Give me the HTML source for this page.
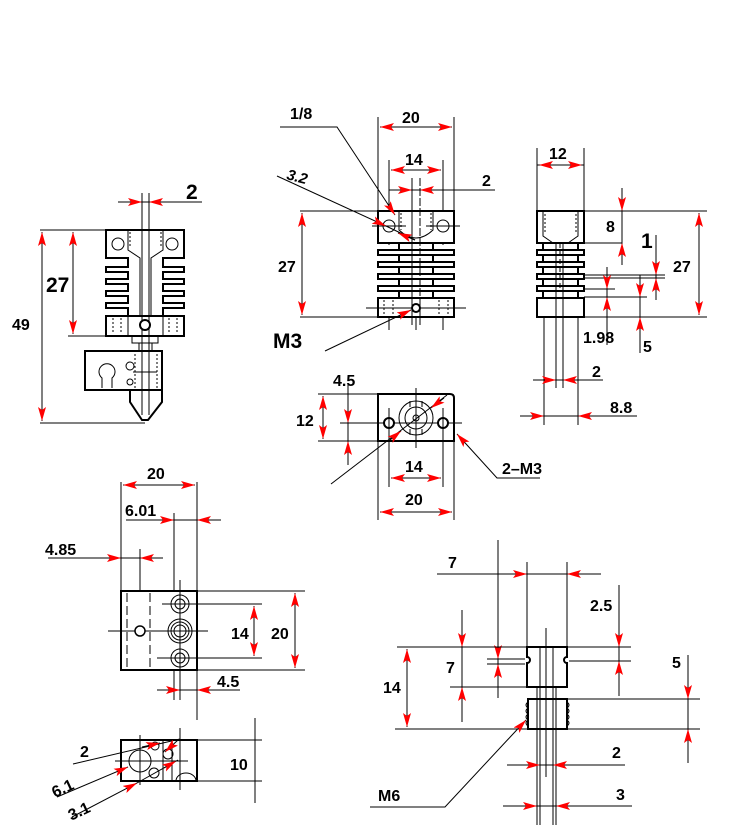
<!DOCTYPE html>
<html><head><meta charset="utf-8"><style>
html,body{margin:0;padding:0;background:#fff}
svg{display:block}
text{font-family:"Liberation Sans",sans-serif;font-weight:bold;fill:#000}
.l{stroke:#000;stroke-width:1;fill:none}
.o{stroke:#000;stroke-width:2;fill:#fff}
.t{stroke:#000;stroke-width:1;fill:none;stroke-dasharray:2 2}
</style></head><body>
<svg width="750" height="825" viewBox="0 0 750 825" xmlns="http://www.w3.org/2000/svg">
<defs>
<marker id="a" viewBox="0 0 14 8" refX="14" refY="4" markerWidth="14" markerHeight="8" orient="auto" markerUnits="userSpaceOnUse"><path d="M0,0 L14,4 L0,8 L3,4z" fill="#f00"/></marker>
<marker id="s" viewBox="0 0 14 8" refX="14" refY="4" markerWidth="14" markerHeight="8" orient="auto-start-reverse" markerUnits="userSpaceOnUse"><path d="M0,0 L14,4 L0,8 L3,4z" fill="#f00"/></marker>
</defs>

<!-- ===== VIEW 1 left ===== -->
<g>
<line class="l" x1="118" y1="202" x2="202" y2="202"/>
<line class="l" x1="124" y1="202" x2="142" y2="202" marker-end="url(#a)"/>
<line class="l" x1="167" y1="202" x2="149" y2="202" marker-end="url(#a)"/>
<text x="186" y="199" font-size="21">2</text>
<path class="o" d="M106,230 H184 V258 H163 V267 H184 V272 H163 V279 H184 V284 H163 V291 H184 V296 H163 V303 H184 V308 H163 V316 H128 V308 H106 V303 H128 V296 H106 V291 H128 V284 H106 V279 H128 V272 H106 V267 H128 V258 H106 Z"/>
<path class="l" d="M128,230 V250 L140,258 V316 M163,230 V250 L151,258 V316"/>
<path class="t" d="M130,232 V248 M161,232 V248"/>
<circle class="l" cx="118" cy="244" r="6"/><circle class="l" cx="172" cy="244" r="6"/>
<rect class="o" x="106" y="316" width="78" height="20"/>
<path class="t" d="M113,318 V334 M121,318 V334 M169,318 V334 M177,318 V334"/>
<path class="l" d="M128,316 V336 M163,316 V336"/>
<path class="l" d="M132,336 V343 H158 V336 M139,343 V351 M152,343 V351"/>
<rect class="o" x="85" y="351" width="77" height="39"/>
<path class="l" d="M102,388 V378 A8,8 0 1 1 112,378 V388"/>
<circle class="l" cx="130" cy="366" r="4"/><circle class="l" cx="130" cy="382" r="3"/>
<path class="t" d="M135,354 V388 M157,354 V388"/>
<line class="l" x1="133" y1="372" x2="157" y2="372"/>
<path class="o" d="M130,390 H162 V402 L148,420 H142 L130,402 Z"/>
<line class="l" x1="142" y1="193" x2="142" y2="415"/><line class="l" x1="149" y1="193" x2="149" y2="415"/>
<circle cx="145" cy="325" r="5" fill="#fff" stroke="#000" stroke-width="2"/>
<line class="l" x1="40" y1="230" x2="106" y2="230"/>
<line class="l" x1="68" y1="336" x2="106" y2="336"/>
<line class="l" x1="73" y1="232" x2="73" y2="334" marker-start="url(#s)" marker-end="url(#a)"/>
<text x="46" y="292" font-size="21">27</text>
<line class="l" x1="42" y1="232" x2="42" y2="421" marker-start="url(#s)" marker-end="url(#a)"/>
<line class="l" x1="40" y1="423" x2="145" y2="423"/>
<text x="12" y="330" font-size="16">49</text>
</g>

<!-- ===== VIEW 2 top middle ===== -->
<g>
<line class="l" x1="378" y1="117" x2="378" y2="211"/><line class="l" x1="454" y1="117" x2="454" y2="211"/>
<line class="l" x1="380" y1="127" x2="452" y2="127" marker-start="url(#s)" marker-end="url(#a)"/>
<text x="402" y="123" font-size="16">20</text>
<line class="l" x1="389" y1="160" x2="389" y2="245"/><line class="l" x1="443" y1="160" x2="443" y2="245"/>
<line class="l" x1="391" y1="170" x2="441" y2="170" marker-start="url(#s)" marker-end="url(#a)"/>
<text x="405" y="165" font-size="16">14</text>
<line class="l" x1="389" y1="190" x2="495" y2="190"/>
<line class="l" x1="396" y1="190" x2="412" y2="190" marker-end="url(#a)"/>
<line class="l" x1="436" y1="190" x2="420" y2="190" marker-end="url(#a)"/>
<text x="482" y="186" font-size="16">2</text>
<rect class="o" x="399" y="243" width="34" height="55"/>
<rect class="o" x="378" y="250" width="76" height="5"/><rect class="o" x="378" y="262" width="76" height="5"/>
<rect class="o" x="378" y="274" width="76" height="5"/><rect class="o" x="378" y="286" width="76" height="5"/>
<rect class="o" x="378" y="211" width="76" height="32"/>
<path class="l" d="M399,211 V230 Q416,246 433,230 V211"/>
<path class="t" d="M401,213 V230 M431,213 V230"/>
<circle class="l" cx="389" cy="226" r="6"/><circle class="l" cx="443" cy="226" r="6"/>
<line class="l" x1="372" y1="226" x2="406" y2="226"/><line class="l" x1="426" y1="226" x2="460" y2="226"/>
<rect class="o" x="378" y="298" width="76" height="19"/>
<path class="t" d="M384,300 V315 M393,300 V315 M439,300 V315 M448,300 V315"/>
<line class="l" x1="412" y1="178" x2="412" y2="325"/><line class="l" x1="420" y1="178" x2="420" y2="325" stroke-dasharray="8 2"/>
<line class="l" x1="366" y1="308" x2="466" y2="308"/>
<line class="l" x1="389" y1="318" x2="389" y2="330"/><line class="l" x1="443" y1="318" x2="443" y2="330"/><line class="l" x1="416" y1="318" x2="416" y2="330"/>
<circle cx="416" cy="308" r="4" fill="#fff" stroke="#000" stroke-width="2"/>
<line class="l" x1="300" y1="211" x2="378" y2="211"/><line class="l" x1="300" y1="317" x2="378" y2="317"/>
<line class="l" x1="302" y1="213" x2="302" y2="315" marker-start="url(#s)" marker-end="url(#a)"/>
<text x="278" y="272" font-size="16">27</text>
<text x="290" y="119" font-size="16">1/8</text>
<path class="l" d="M280,127 H337 L395,215" marker-end="url(#a)"/>
<text x="287" y="182" font-size="15" font-style="italic" transform="rotate(15 298 176)">3.2</text>
<line class="l" x1="277" y1="176" x2="386" y2="226" marker-end="url(#a)"/>
<line class="l" x1="386" y1="226" x2="415" y2="240"/>
<line class="l" x1="415" y1="240" x2="398" y2="233" marker-end="url(#a)"/>
<text x="273" y="348" font-size="21">M3</text>
<path class="l" d="M325,351 L411,310" marker-end="url(#a)"/>
</g>

<!-- ===== VIEW 3 right top ===== -->
<g>
<line class="l" x1="537" y1="148" x2="537" y2="211"/><line class="l" x1="584" y1="148" x2="584" y2="211"/>
<line class="l" x1="537" y1="165" x2="584" y2="165"/>
<line class="l" x1="549" y1="165" x2="539" y2="165" marker-end="url(#a)"/>
<line class="l" x1="572" y1="165" x2="582" y2="165" marker-end="url(#a)"/>
<text x="549" y="159" font-size="16">12</text>
<rect class="o" x="543" y="243" width="35" height="55"/>
<rect class="o" x="537" y="250" width="47" height="5"/><rect class="o" x="537" y="262" width="47" height="5"/>
<rect class="o" x="537" y="274" width="47" height="5"/><rect class="o" x="537" y="286" width="47" height="5"/>
<rect class="o" x="537" y="211" width="47" height="32"/>
<path class="l" d="M543,211 V236 L553,243 M578,211 V236 L568,243"/>
<path class="t" d="M545,214 V234 M576,214 V234"/>
<rect class="o" x="537" y="298" width="47" height="19"/>
<line class="l" x1="544" y1="317" x2="544" y2="425"/><line class="l" x1="578" y1="317" x2="578" y2="425"/>
<line class="l" x1="556" y1="242" x2="556" y2="388"/><line class="l" x1="563" y1="242" x2="563" y2="388"/>
<line class="l" x1="560" y1="243" x2="560" y2="292" stroke-dasharray="5 3"/>
<line class="l" x1="584" y1="211" x2="707" y2="211"/><line class="l" x1="584" y1="243" x2="622" y2="243"/>
<line class="l" x1="622" y1="188" x2="622" y2="265"/>
<line class="l" x1="622" y1="193" x2="622" y2="211" marker-end="url(#a)"/>
<line class="l" x1="622" y1="261" x2="622" y2="243" marker-end="url(#a)"/>
<text x="606" y="232" font-size="16">8</text>
<text x="641" y="248" font-size="21">1</text>
<line class="l" x1="584" y1="275" x2="665" y2="275"/><line class="l" x1="584" y1="278" x2="665" y2="278"/>
<line class="l" x1="656" y1="235" x2="656" y2="300"/>
<line class="l" x1="656" y1="260" x2="656" y2="275" marker-end="url(#a)"/>
<line class="l" x1="656" y1="295" x2="656" y2="278" marker-end="url(#a)"/>
<line class="l" x1="584" y1="289" x2="615" y2="289"/><line class="l" x1="584" y1="297" x2="647" y2="297"/>
<line class="l" x1="607" y1="267" x2="607" y2="345"/>
<line class="l" x1="607" y1="273" x2="607" y2="289" marker-end="url(#a)"/>
<line class="l" x1="607" y1="313" x2="607" y2="297" marker-end="url(#a)"/>
<text x="583" y="343" font-size="16">1.98</text>
<line class="l" x1="640" y1="275" x2="640" y2="353"/>
<line class="l" x1="640" y1="282" x2="640" y2="297" marker-end="url(#a)"/>
<line class="l" x1="640" y1="333" x2="640" y2="317" marker-end="url(#a)"/>
<text x="643" y="352" font-size="16">5</text>
<line class="l" x1="584" y1="317" x2="707" y2="317"/>
<line class="l" x1="699" y1="213" x2="699" y2="315" marker-start="url(#s)" marker-end="url(#a)"/>
<text x="673" y="272" font-size="16">27</text>
<line class="l" x1="533" y1="380" x2="603" y2="380"/>
<line class="l" x1="541" y1="380" x2="556" y2="380" marker-end="url(#a)"/>
<line class="l" x1="578" y1="380" x2="563" y2="380" marker-end="url(#a)"/>
<text x="592" y="377" font-size="16">2</text>
<line class="l" x1="520" y1="416" x2="637" y2="416"/>
<line class="l" x1="526" y1="416" x2="544" y2="416" marker-end="url(#a)"/>
<line class="l" x1="596" y1="416" x2="578" y2="416" marker-end="url(#a)"/>
<text x="610" y="413" font-size="16">8.8</text>
</g>

<!-- ===== VIEW 4 middle ===== -->
<g>
<path class="o" d="M378,394 H450 Q454,394 454,398 V441 H378 Z"/>
<line class="l" x1="340" y1="423" x2="462" y2="423"/>
<line class="l" x1="416" y1="388" x2="416" y2="448"/>
<circle class="l" cx="416" cy="418" r="17" stroke-width="1.5"/>
<circle class="l" cx="416" cy="418" r="11"/>
<circle class="l" cx="416" cy="418" r="3"/>
<path class="l" d="M410,401 V407 M422,401 V407 M410,429 V435 M422,429 V435"/>
<circle cx="389" cy="423" r="5" fill="#fff" stroke="#000" stroke-width="2"/>
<circle cx="443" cy="423" r="5" fill="#fff" stroke="#000" stroke-width="2"/>
<line class="l" x1="389" y1="408" x2="389" y2="487"/><line class="l" x1="443" y1="408" x2="443" y2="487"/>
<line class="l" x1="391" y1="478" x2="441" y2="478" marker-start="url(#s)" marker-end="url(#a)"/>
<text x="405" y="472" font-size="16">14</text>
<line class="l" x1="378" y1="441" x2="378" y2="520"/><line class="l" x1="454" y1="441" x2="454" y2="520"/>
<line class="l" x1="380" y1="512" x2="452" y2="512" marker-start="url(#s)" marker-end="url(#a)"/>
<text x="405" y="505" font-size="16">20</text>
<line class="l" x1="318" y1="394" x2="378" y2="394"/><line class="l" x1="318" y1="441" x2="378" y2="441"/>
<line class="l" x1="323" y1="396" x2="323" y2="439" marker-start="url(#s)" marker-end="url(#a)"/>
<text x="296" y="426" font-size="16">12</text>
<line class="l" x1="348" y1="385" x2="348" y2="465"/>
<line class="l" x1="348" y1="408" x2="348" y2="423" marker-end="url(#a)"/>
<line class="l" x1="348" y1="458" x2="348" y2="441" marker-end="url(#a)"/>
<text x="333" y="386" font-size="16">4.5</text>
<line class="l" x1="331" y1="484" x2="447" y2="395"/>
<line class="l" x1="444" y1="398" x2="431" y2="408" marker-end="url(#a)"/>
<line class="l" x1="390" y1="440" x2="401" y2="431" marker-end="url(#a)"/>
<path class="l" d="M540,478 H497 L457,434" marker-end="url(#a)"/>
<text x="502" y="474" font-size="16">2–M3</text>
</g>

<!-- ===== VIEW 5 ===== -->
<g>
<line class="l" x1="121" y1="482" x2="121" y2="591"/><line class="l" x1="197" y1="482" x2="197" y2="720"/>
<line class="l" x1="123" y1="485" x2="195" y2="485" marker-start="url(#s)" marker-end="url(#a)"/>
<text x="147" y="479" font-size="16">20</text>
<line class="l" x1="174" y1="513" x2="174" y2="700"/>
<line class="l" x1="126" y1="520" x2="221" y2="520"/>
<line class="l" x1="158" y1="520" x2="174" y2="520" marker-end="url(#a)"/>
<line class="l" x1="213" y1="520" x2="197" y2="520" marker-end="url(#a)"/>
<text x="125" y="516" font-size="16">6.01</text>
<line class="l" x1="140" y1="549" x2="140" y2="631"/>
<line class="l" x1="48" y1="558" x2="163" y2="558"/>
<line class="l" x1="106" y1="558" x2="121" y2="558" marker-end="url(#a)"/>
<line class="l" x1="156" y1="558" x2="140" y2="558" marker-end="url(#a)"/>
<text x="45" y="555" font-size="16">4.85</text>
<rect class="o" x="121" y="591" width="76" height="79"/>
<line class="l" x1="127" y1="593" x2="127" y2="668" stroke-dasharray="9 4" stroke-width="2"/>
<line class="l" x1="150" y1="593" x2="150" y2="668" stroke-dasharray="9 4" stroke-width="2"/>
<line class="l" x1="108" y1="631" x2="208" y2="631"/>
<circle cx="140" cy="631" r="5" fill="#fff" stroke="#000" stroke-width="1.5"/>
<circle class="l" cx="180" cy="604" r="9" stroke-width="1.5"/><circle class="l" cx="180" cy="604" r="5"/>
<circle class="l" cx="180" cy="631" r="12" stroke-width="1.5"/><circle class="l" cx="180" cy="631" r="9"/><circle class="l" cx="180" cy="631" r="6"/>
<circle class="l" cx="180" cy="658" r="9" stroke-width="1.5"/><circle class="l" cx="180" cy="658" r="5"/>
<line class="l" x1="180" y1="580" x2="180" y2="700"/>
<line class="l" x1="162" y1="604" x2="262" y2="604"/><line class="l" x1="157" y1="658" x2="262" y2="658"/>
<line class="l" x1="254" y1="606" x2="254" y2="656" marker-start="url(#s)" marker-end="url(#a)"/>
<text x="231" y="639" font-size="16">14</text>
<line class="l" x1="197" y1="591" x2="305" y2="591"/><line class="l" x1="197" y1="670" x2="305" y2="670"/>
<line class="l" x1="295" y1="593" x2="295" y2="668" marker-start="url(#s)" marker-end="url(#a)"/>
<text x="271" y="639" font-size="16">20</text>
<line class="l" x1="157" y1="690" x2="240" y2="690"/>
<line class="l" x1="164" y1="690" x2="180" y2="690" marker-end="url(#a)"/>
<line class="l" x1="213" y1="690" x2="197" y2="690" marker-end="url(#a)"/>
<text x="217" y="687" font-size="16">4.5</text>
</g>

<!-- ===== VIEW 6 ===== -->
<g>
<rect class="o" x="121" y="740" width="76" height="41"/>
<line class="l" x1="180" y1="728" x2="180" y2="790"/>
<line class="l" x1="163" y1="740" x2="163" y2="781"/>
<line class="l" x1="172" y1="740" x2="172" y2="781"/>
<line class="l" x1="140" y1="735" x2="140" y2="785"/>
<line class="l" x1="115" y1="761" x2="188" y2="761"/>
<circle class="l" cx="140" cy="761" r="11"/>
<circle class="l" cx="155" cy="746" r="4"/>
<circle class="l" cx="154" cy="773" r="5"/>
<circle class="l" cx="168" cy="754" r="5"/>
<path class="l" d="M176,781 A10,8 0 0 1 196,781"/>
<line class="l" x1="197" y1="740" x2="262" y2="740"/><line class="l" x1="197" y1="781" x2="262" y2="781"/>
<line class="l" x1="255" y1="718" x2="255" y2="803"/>
<text x="230" y="770" font-size="16">10</text>
<text x="80" y="757" font-size="16">2</text>
<line class="l" x1="73" y1="764" x2="180" y2="739"/>
<line class="l" x1="142" y1="747" x2="160" y2="743" marker-end="url(#a)"/>
<line class="l" x1="178" y1="740" x2="165" y2="752" marker-end="url(#a)"/>
<text x="52" y="795" font-size="16" transform="rotate(-25 60 790)">6.1</text>
<line class="l" x1="57" y1="797" x2="128" y2="767" marker-end="url(#a)"/>
<text x="68" y="818" font-size="16" transform="rotate(-25 76 812)">3.1</text>
<line class="l" x1="72" y1="817" x2="137" y2="783" marker-end="url(#a)"/>
<line class="l" x1="137" y1="783" x2="178" y2="760"/>
<line class="l" x1="164" y1="768" x2="176" y2="761" marker-end="url(#a)"/>
</g>

<!-- ===== VIEW 7 ===== -->
<g>
<line class="l" x1="527" y1="562" x2="527" y2="647"/><line class="l" x1="567" y1="562" x2="567" y2="647"/>
<line class="l" x1="437" y1="574" x2="601" y2="574"/>
<line class="l" x1="508" y1="574" x2="527" y2="574" marker-end="url(#a)"/>
<line class="l" x1="586" y1="574" x2="567" y2="574" marker-end="url(#a)"/>
<text x="448" y="568" font-size="16">7</text>
<path class="o" d="M527,647 H567 V657 A3,3 0 0 0 567,663 V687 H527 V663 A3,3 0 0 0 527,657 Z"/>
<line class="l" x1="487" y1="659" x2="525" y2="659"/><line class="l" x1="487" y1="664" x2="525" y2="664"/>
<line class="l" x1="569" y1="661" x2="631" y2="661"/>
<line class="l" x1="498" y1="540" x2="498" y2="698"/>
<line class="l" x1="498" y1="640" x2="498" y2="659" marker-end="url(#a)"/>
<line class="l" x1="498" y1="684" x2="498" y2="664" marker-end="url(#a)"/>
<line class="l" x1="397" y1="647" x2="631" y2="647"/>
<line class="l" x1="619" y1="585" x2="619" y2="696"/>
<line class="l" x1="619" y1="628" x2="619" y2="647" marker-end="url(#a)"/>
<line class="l" x1="619" y1="680" x2="619" y2="661" marker-end="url(#a)"/>
<text x="590" y="611" font-size="16">2.5</text>
<line class="l" x1="450" y1="687" x2="527" y2="687"/>
<line class="l" x1="462" y1="610" x2="462" y2="722"/>
<line class="l" x1="462" y1="628" x2="462" y2="647" marker-end="url(#a)"/>
<line class="l" x1="462" y1="706" x2="462" y2="687" marker-end="url(#a)"/>
<text x="446" y="673" font-size="16">7</text>
<rect class="o" x="528" y="699" width="39" height="30"/>
<path class="l" d="M528,702 q-4,3 0,6 q-4,3 0,6 q-4,3 0,6 q-4,3 0,6 M567,702 q4,3 0,6 q4,3 0,6 q4,3 0,6 q4,3 0,6" stroke-width="1.5"/>
<line class="l" x1="540" y1="647" x2="540" y2="825"/><line class="l" x1="553" y1="647" x2="553" y2="825"/>
<line class="l" x1="546" y1="628" x2="546" y2="777"/>
<line class="l" x1="537" y1="687" x2="537" y2="825"/><line class="l" x1="556" y1="687" x2="556" y2="825"/>
<line class="l" x1="567" y1="699" x2="700" y2="699"/>
<line class="l" x1="395" y1="729" x2="700" y2="729"/>
<line class="l" x1="407" y1="649" x2="407" y2="727" marker-start="url(#s)" marker-end="url(#a)"/>
<text x="383" y="693" font-size="16">14</text>
<line class="l" x1="688" y1="655" x2="688" y2="763"/>
<line class="l" x1="688" y1="681" x2="688" y2="699" marker-end="url(#a)"/>
<line class="l" x1="688" y1="747" x2="688" y2="729" marker-end="url(#a)"/>
<text x="672" y="668" font-size="16">5</text>
<line class="l" x1="507" y1="765" x2="625" y2="765"/>
<line class="l" x1="522" y1="765" x2="540" y2="765" marker-end="url(#a)"/>
<line class="l" x1="571" y1="765" x2="553" y2="765" marker-end="url(#a)"/>
<text x="612" y="758" font-size="16">2</text>
<line class="l" x1="503" y1="806" x2="632" y2="806"/>
<line class="l" x1="519" y1="806" x2="537" y2="806" marker-end="url(#a)"/>
<line class="l" x1="574" y1="806" x2="556" y2="806" marker-end="url(#a)"/>
<text x="616" y="800" font-size="16">3</text>
<text x="378" y="801" font-size="16">M6</text>
<path class="l" d="M370,807 H445 L526,720" marker-end="url(#a)"/>
</g>
</svg>
</body></html>
